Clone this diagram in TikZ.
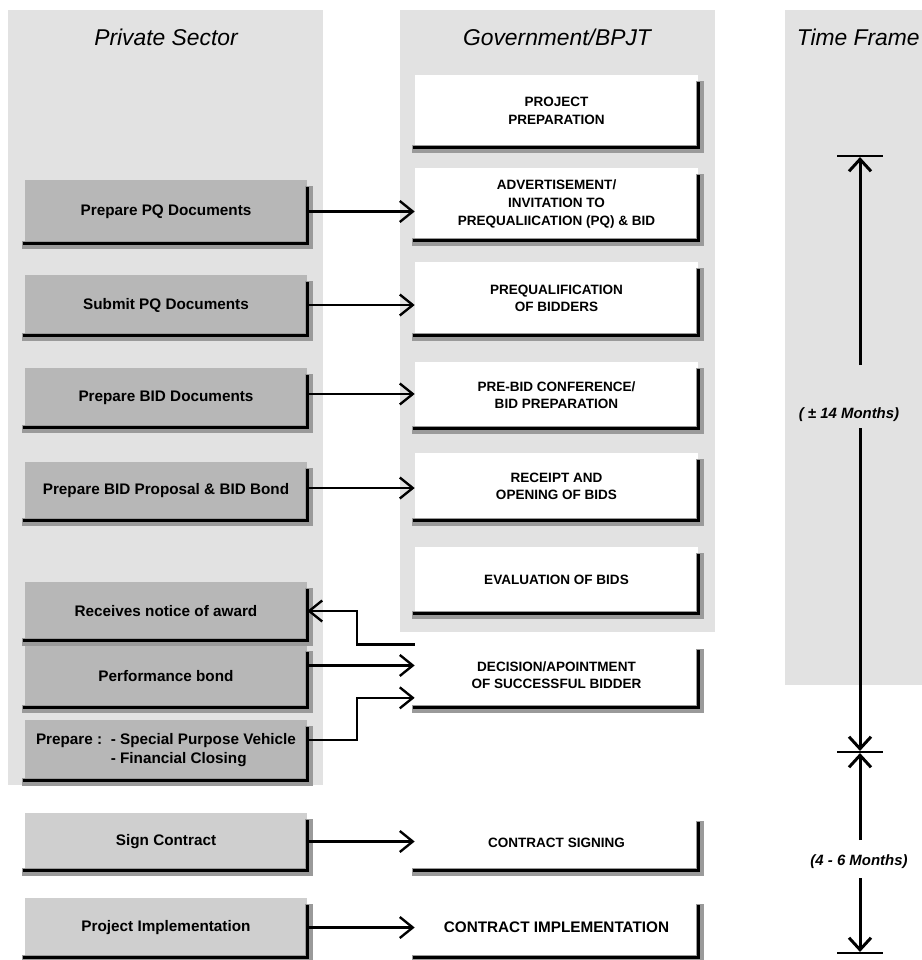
\documentclass[tikz,border=0pt]{standalone}
\usepackage{fontspec}
\setmainfont{Liberation Sans}
\usetikzlibrary{arrows.meta,positioning,calc}
\definecolor{panelgray}{HTML}{E2E2E2}
\definecolor{boxgray}{HTML}{B7B7B7}
\definecolor{lightbox}{HTML}{CFCFCF}
\definecolor{halogray}{HTML}{9A9A9A}
\tikzset{
  panel/.style={fill=panelgray,draw=none},
  psbox/.style={fill=boxgray,minimum width=5.64cm,inner sep=0pt,align=center,
                font=\bfseries\fontsize{8.7}{10.5}\selectfont},
  govbox/.style={fill=white,minimum width=5.66cm,inner sep=0pt,align=center,
                 font=\bfseries\fontsize{7.7}{10}\selectfont},
  coltitle/.style={font=\itshape\fontsize{13}{15}\selectfont,inner sep=0pt},
  shadowhalo/.style={draw=halogray,line width=4.5pt,line cap=rect,
                     transform canvas={xshift=0.8pt,yshift=-0.8pt}},
  shadowline/.style={draw=black,line width=1.7pt,line cap=rect},
  conarr/.style={-{Straight Barb[length=2.6mm,width=4.2mm]},line width=1.35pt},
  timearr/.style={-{Straight Barb[length=2.4mm,width=4.4mm]},line width=1.7pt,
                  shorten >=0.6pt},
  tickline/.style={line width=0.8pt},
  timelabel/.style={font=\bfseries\itshape\fontsize{8.5}{10}\selectfont,inner sep=1pt}
}
\begin{document}
\begin{tikzpicture}[x=0.02cm,y=-0.02cm]
    \path[use as bounding box] (0,0) rectangle (922,960);

    % column backgrounds
    \fill[panel] (8,10) rectangle (323,785);
    \fill[panel] (400,10) rectangle (715,632);
    \fill[panel] (785,10) rectangle (935,685);

    \node[coltitle] (tpriv) at (166,37) {Private Sector};
    \node[coltitle] (tgov) at (557,37) {Government/BPJT};
    \node[coltitle,anchor=east] (ttime) at (920,37) {Time Frame};

    % private sector
    \node[psbox,minimum height=1.26cm] (ppq) at (166,211.5) {Prepare PQ Documents};
    \node[psbox,minimum height=1.2cm] (spq) at (166,305) {Submit PQ Documents};
    \node[psbox,minimum height=1.18cm] (pbd) at (166,397.5) {Prepare BID Documents};
    \node[psbox,minimum height=1.16cm] (pbp) at (166,491) {Prepare BID Proposal \& BID Bond};
    \node[psbox,minimum height=1.16cm] (rna) at (166,611) {Receives notice of award};
    \node[psbox,minimum height=1.24cm] (pb) at (166,676) {Performance bond};
    \node[psbox,minimum height=1.2cm,align=left] (spv) at (166,750)
      {Prepare :\ \ - Special Purpose Vehicle\\\hphantom{Prepare :\ \ }- Financial Closing};
    \node[psbox,fill=lightbox,minimum height=1.14cm] (sc) at (166,841.5) {Sign Contract};
    \node[psbox,fill=lightbox,minimum height=1.18cm] (pi) at (166,927.5) {Project Implementation};

    % government
    \node[govbox,minimum height=1.44cm] (prep) at (556.5,111) {PROJECT\\PREPARATION};
    \node[govbox,minimum height=1.44cm] (adv) at (556.5,204)
      {ADVERTISEMENT/\\INVITATION TO\\PREQUALIICATION (PQ) \& BID};
    \node[govbox,minimum height=1.46cm] (preq) at (556.5,298.5) {PREQUALIFICATION\\OF BIDDERS};
    \node[govbox,minimum height=1.32cm] (prebid) at (556.5,395) {PRE-BID CONFERENCE/\\BID PREPARATION};
    \node[govbox,minimum height=1.34cm] (receipt) at (556.5,486.5) {RECEIPT AND\\OPENING OF BIDS};
    \node[govbox,minimum height=1.32cm] (evalb) at (556.5,580) {EVALUATION OF BIDS};
    \node[govbox,minimum height=1.28cm] (dec) at (556.5,675) {DECISION/APOINTMENT\\OF SUCCESSFUL BIDDER};
    \node[govbox,minimum height=1.1cm] (csign) at (556.5,842.5) {CONTRACT SIGNING};
    \node[govbox,minimum height=1.18cm,font=\bfseries\fontsize{8.7}{10}\selectfont] (cimpl) at (556.5,927.5)
      {CONTRACT IMPLEMENTATION};

    \foreach \n in {ppq,spq,pbd,pbp,rna,pb,spv,sc,pi,prep,adv,preq,prebid,receipt,evalb,dec,csign,cimpl}{
      \draw[shadowhalo] ([yshift=-5pt]\n.north east) -- (\n.south east) -- (\n.south west);
      \draw[shadowline] ([yshift=-5pt]\n.north east) -- (\n.south east) -- (\n.south west);
    }

    % connectors
    \coordinate (jog) at (357,0);
    \coordinate (pbout) at ([yshift=6pt]pb.east);
    \coordinate (spvout) at ([yshift=5.7pt]spv.east);
    \coordinate (spvin) at ([yshift=-13pt]dec.west);
    \draw[conarr] (ppq.east) -- (ppq.east -| adv.west);
    \draw[conarr] (spq.east) -- (spq.east -| preq.west);
    \draw[conarr] ([yshift=2pt]pbd.east) -- ([yshift=2pt]pbd.east -| prebid.west);
    \draw[conarr] ([yshift=1.7pt]pbp.east) -- ([yshift=1.7pt]pbp.east -| receipt.west);
    \draw[conarr] ([yshift=-1pt]dec.north west) -| (jog |- rna.east) -- (rna.east);
    \draw[conarr] (pbout) -- (pbout -| dec.west);
    \draw[conarr] (spvout) -| (spvin -| jog) -- (spvin);
    \draw[conarr] (sc.east) -- (sc.east -| csign.west);
    \draw[conarr] (pi.east) -- (pi.east -| cimpl.west);

    % time frame
    \coordinate (t1) at (860,156);
    \coordinate (t2) at (860,752);
    \coordinate (t3) at (860,953);
    \coordinate (g1) at (860,365);
    \coordinate (g2) at (860,428);
    \coordinate (g3) at (860,840);
    \coordinate (g4) at (860,878);
    \foreach \t in {t1,t2,t3}{
      \draw[tickline] ([xshift=-0.46cm]\t) -- ([xshift=0.46cm]\t);
    }
    \node[timelabel] (lab1) at (849,415) {( ± 14 Months)};
    \node[timelabel] (lab2) at (859,862) {(4 - 6 Months)};
    \draw[timearr] (g1) -- (t1);
    \draw[timearr] (g2) -- (t2);
    \draw[timearr] (g3) -- (t2);
    \draw[timearr] (g4) -- (t3);
  \end{tikzpicture}
\end{document}
